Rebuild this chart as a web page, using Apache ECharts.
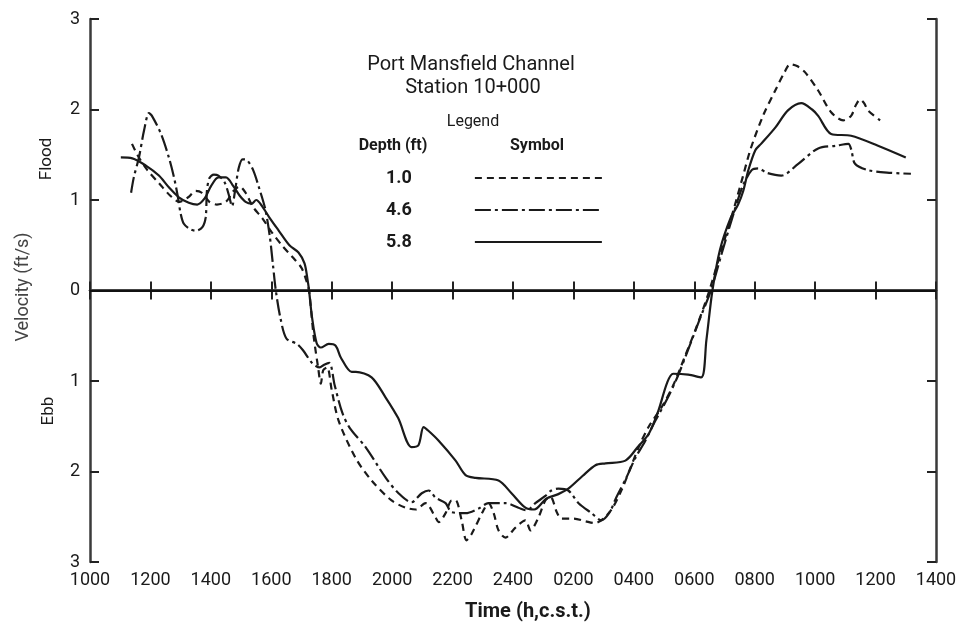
<!DOCTYPE html>
<html><head><meta charset="utf-8">
<script src="https://cdn.jsdelivr.net/npm/echarts@6/dist/echarts.min.js"></script>
<style>html,body{margin:0;padding:0;background:#fff}#c{width:964px;height:636px}</style>
</head><body><div id="c"></div>
<script>
// Time is in hours counted from 1000 of the first day (10 .. 38)
const xTickLabels = ['1000','1200','1400','1600','1800','2000','2200','2400','0200','0400','0600','0800','1000','1200','1400'];
const yTickLabels = ['3','2','1','0','1','2','3']; // Flood above 0, Ebb below 0
const depthNames = ['1.0','4.6','5.8'];

// [time (h), velocity (ft/s); flood +, ebb -]
const depth10 = [[11.39,1.62],[11.6,1.48],[11.9,1.33],[12.3,1.18],[12.65,1.05],[12.95,0.98],[13.25,1.03],[13.5,1.1],[13.7,1.08],[13.95,0.98],[14.2,0.95],[14.5,0.98],[14.75,1.1],[14.95,1.15],[15.15,1.08],[15.4,0.92],[15.7,0.8],[16.0,0.65],[16.35,0.5],[16.7,0.37],[17.0,0.25],[17.15,0.12],[17.25,0.0],[17.4,-0.5],[17.55,-0.85],[17.64,-1.03],[17.72,-0.88],[17.85,-0.85],[18.0,-1.1],[18.23,-1.44],[18.79,-1.85],[19.32,-2.10],[19.98,-2.32],[20.45,-2.40],[20.78,-2.42],[21.1,-2.35],[21.44,-2.51],[21.54,-2.56],[21.77,-2.46],[21.97,-2.32],[22.1,-2.32],[22.3,-2.54],[22.46,-2.76],[22.63,-2.69],[23.02,-2.43],[23.19,-2.35],[23.36,-2.46],[23.52,-2.65],[23.75,-2.73],[24.08,-2.62],[24.41,-2.54],[24.58,-2.65],[24.84,-2.51],[25.07,-2.32],[25.24,-2.28],[25.45,-2.45],[25.6,-2.52],[26.0,-2.52],[26.4,-2.55],[26.7,-2.57],[27.0,-2.52],[27.3,-2.4],[27.6,-2.2],[27.9,-1.95],[28.2,-1.7],[28.5,-1.5],[28.9,-1.3],[29.3,-1.05],[29.7,-0.72],[30.1,-0.38],[30.5,0.0],[30.9,0.45],[31.29,0.88],[31.6,1.25],[31.88,1.58],[32.3,1.95],[32.68,2.21],[33.0,2.42],[33.17,2.50],[33.4,2.48],[33.67,2.41],[34.1,2.21],[34.53,1.97],[34.93,1.88],[35.19,1.93],[35.35,2.05],[35.49,2.11],[35.62,2.07],[35.75,1.99],[36.15,1.88]];

const depth46 = [[11.36,1.08],[11.45,1.25],[11.62,1.47],[11.79,1.77],[11.95,1.96],[12.05,1.93],[12.35,1.73],[12.61,1.47],[12.78,1.25],[12.9,1.05],[13.0,0.85],[13.1,0.74],[13.3,0.68],[13.5,0.66],[13.72,0.70],[13.83,0.81],[13.87,1.1],[13.95,1.24],[14.1,1.28],[14.25,1.27],[14.45,1.2],[14.6,1.05],[14.7,0.93],[14.8,1.1],[14.92,1.35],[15.05,1.45],[15.2,1.44],[15.4,1.33],[15.6,1.13],[15.8,0.9],[15.95,0.6],[16.05,0.3],[16.15,0.0],[16.3,-0.3],[16.5,-0.53],[16.85,-0.59],[17.05,-0.66],[17.35,-0.8],[17.6,-0.85],[17.75,-0.82],[17.92,-0.8],[18.1,-1.05],[18.35,-1.35],[18.6,-1.52],[19.12,-1.73],[19.79,-2.07],[20.21,-2.24],[20.64,-2.34],[20.98,-2.24],[21.21,-2.21],[21.44,-2.29],[21.77,-2.35],[21.97,-2.45],[22.43,-2.46],[22.86,-2.41],[23.19,-2.35],[23.75,-2.35],[24.18,-2.40],[24.45,-2.43],[24.74,-2.35],[25.07,-2.27],[25.27,-2.21],[25.5,-2.19],[25.83,-2.21],[26.17,-2.35],[26.6,-2.46],[26.93,-2.54],[27.2,-2.45],[27.4,-2.3],[27.75,-2.07],[28.05,-1.85],[28.38,-1.66],[28.71,-1.44],[29.1,-1.2],[29.45,-0.95],[29.8,-0.65],[30.2,-0.3],[30.55,0.0],[30.9,0.4],[31.3,0.85],[31.6,1.15],[31.9,1.33],[32.12,1.35],[32.4,1.3],[32.88,1.27],[33.44,1.40],[34.1,1.57],[34.7,1.6],[35.1,1.62],[35.2,1.55],[35.32,1.40],[35.75,1.33],[36.5,1.3],[37.17,1.29]];

const depth58 = [[11.02,1.47],[11.4,1.46],[11.85,1.38],[12.28,1.27],[12.61,1.14],[12.94,1.03],[13.27,0.97],[13.55,0.95],[13.8,1.02],[14.0,1.15],[14.25,1.25],[14.5,1.25],[14.75,1.15],[14.95,1.05],[15.15,0.98],[15.35,0.96],[15.5,1.0],[15.7,0.93],[15.95,0.8],[16.25,0.66],[16.6,0.5],[16.9,0.42],[17.1,0.3],[17.2,0.12],[17.25,0.0],[17.35,-0.3],[17.5,-0.58],[17.64,-0.63],[17.9,-0.59],[18.13,-0.61],[18.3,-0.74],[18.66,-0.9],[18.8,-0.9],[19.32,-0.96],[19.78,-1.18],[20.2,-1.41],[20.64,-1.73],[20.87,-1.71],[21.04,-1.51],[21.2,-1.55],[21.54,-1.66],[22.1,-1.88],[22.43,-2.04],[22.76,-2.07],[23.52,-2.10],[23.95,-2.24],[24.41,-2.40],[24.7,-2.42],[25.1,-2.3],[25.5,-2.25],[25.83,-2.19],[26.3,-2.05],[26.73,-1.93],[27.06,-1.91],[27.72,-1.88],[28.15,-1.72],[28.5,-1.58],[28.81,-1.33],[29.1,-1.02],[29.3,-0.92],[29.8,-0.93],[30.23,-0.96],[30.4,-0.55],[30.6,0.0],[30.85,0.45],[31.2,0.8],[31.45,0.95],[31.62,1.1],[31.79,1.33],[32.02,1.55],[32.21,1.62],[32.68,1.80],[33.1,1.99],[33.54,2.07],[33.9,2.0],[34.1,1.93],[34.53,1.73],[35.19,1.71],[36.08,1.60],[37.0,1.47]];

const FONT = 'Roboto, "DejaVu Sans", sans-serif';
const INK = '#1a1a1a';

const chart = echarts.init(document.getElementById('c'), null, {renderer: 'canvas'});

const axisLineStyle = {color: '#3a3a3a', width: 2.5};
const tickStyle = {inside: true, length: 9, lineStyle: {color: '#222', width: 2}};

function lineSeries(name, data, type, width) {
  return {
    name: name, type: 'line', data: data, smooth: 0.3, symbol: 'none',
    lineStyle: {color: INK, width: width, type: type},
    itemStyle: {color: INK},
    z: 3
  };
}

const series = [
  lineSeries(depthNames[0], depth10, [7, 5], 2.2),
  lineSeries(depthNames[1], depth46, [16, 4, 3, 4], 2.2),
  lineSeries(depthNames[2], depth58, 'solid', 2.2)
];
series[2].markLine = {
  silent: true, symbol: ['none', 'none'], label: {show: false},
  lineStyle: {color: '#111', width: 2, type: 'solid'},
  data: [{yAxis: 0}], animation: false
};

function txt(text, x, y, size, opts) {
  return Object.assign({
    type: 'text', x: x, y: y,
    style: Object.assign({text: text, fontSize: size, fontFamily: FONT, fill: INK,
      textAlign: 'center', textVerticalAlign: 'middle'}, (opts && opts.style) || {})
  }, (opts && opts.el) || {});
}

chart.setOption({
  animation: false,
  backgroundColor: '#fff',
  grid: {left: 90, right: 28, top: 19, bottom: 74},
  xAxis: [{
    type: 'value', min: 10, max: 38, interval: 2, position: 'bottom',
    axisLine: {show: true, lineStyle: axisLineStyle},
    axisTick: tickStyle,
    axisLabel: {formatter: v => xTickLabels[Math.round((v - 10) / 2)], fontSize: 18, color: INK, margin: 9, fontFamily: FONT},
    splitLine: {show: false}
  }, {
    type: 'value', min: 10, max: 38, interval: 2, position: 'top',
    axisLine: {show: true, lineStyle: axisLineStyle},
    axisTick: tickStyle, axisLabel: {show: false}, splitLine: {show: false}
  }],
  yAxis: [{
    type: 'value', min: -3, max: 3, interval: 1, position: 'left',
    axisLine: {show: true, lineStyle: axisLineStyle},
    axisTick: tickStyle,
    axisLabel: {formatter: v => yTickLabels[Math.round(3 - v)], fontSize: 18, color: INK, margin: 10, fontFamily: FONT},
    splitLine: {show: false}
  }, {
    type: 'value', min: -3, max: 3, interval: 1, position: 'right',
    axisLine: {show: true, lineStyle: axisLineStyle},
    axisTick: tickStyle, axisLabel: {show: false}, splitLine: {show: false}
  }],
  legend: {
    orient: 'vertical', left: 381, top: 164, align: 'right',
    itemWidth: 127, itemHeight: 12, itemGap: 14,
    itemStyle: {opacity: 0, borderWidth: 0},
    textStyle: {fontSize: 18, fontWeight: 'bold', color: INK, fontFamily: FONT, padding: [0, 58, 0, 0]},
    data: depthNames
  },
  graphic: [
    txt('Port Mansfield Channel', 471, 65, 20),
    txt('Station 10+000', 473, 88, 20),
    txt('Legend', 473, 122, 16),
    txt('Depth (ft)', 393, 146, 16, {style: {fontWeight: 'bold'}}),
    txt('Symbol', 537, 146, 16, {style: {fontWeight: 'bold'}}),
    txt('Flood', 47, 159, 17, {el: {rotation: Math.PI / 2}}),
    txt('Ebb', 49, 411, 17, {el: {rotation: Math.PI / 2}}),
    txt('Velocity (ft/s)', 23, 287, 18, {el: {rotation: Math.PI / 2}, style: {fill: '#444'}}),
    txt('Time (h,c.s.t.)', 528, 612, 20, {style: {fontWeight: 'bold'}})
  ],
  series: series
});
</script>
</body></html>
